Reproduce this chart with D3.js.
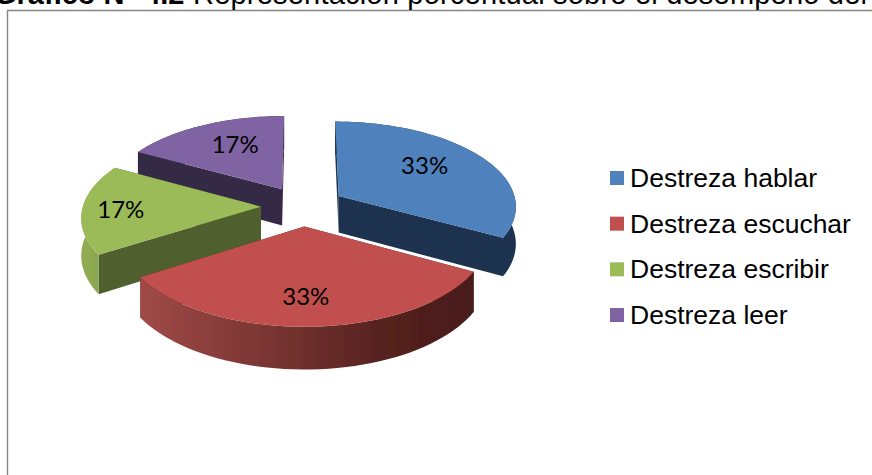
<!DOCTYPE html>
<html>
<head>
<meta charset="utf-8">
<style>html,body{margin:0;padding:0;background:#fff;overflow:hidden}svg{display:block}</style>
<script src="https://cdn.jsdelivr.net/npm/d3@7/dist/d3.min.js"></script>
</head>
<body>
<svg id="chart" width="872" height="475"></svg>
<script>
const categories = ["Destreza hablar", "Destreza escuchar", "Destreza escribir", "Destreza leer"];
const values = [33, 33, 17, 17];
const labels = ["33%", "33%", "17%", "17%"];
const titleBold = "Gráfico N° 4.2";
const titleRest = "Representación porcentual sobre el desempeño del";

const topColors = ["#4f81bd", "#c0504d", "#9bbb59", "#8064a2"];
const wallColors = ["#1f334f", "#4d1e1c", "#4f5f2d", "#352a44"];
const labelFrac = [0.58, 0.70, 0.79, 0.62];
const labelNudge = [[2, -6], [-3, 3], [1, 1], [4, -3]];

const cx = 303, cy = 206, R = 178, tilt = 0.475, persp = 0.109 / 178, depth = 37, explode = 42;
const W = 872, H = 475;
const svg = d3.select("#chart");
const defs = svg.append("defs");
const redGrad = defs.append("linearGradient").attr("id", "redRim")
  .attr("gradientUnits", "userSpaceOnUse").attr("x1", 141).attr("x2", 472).attr("y1", 0).attr("y2", 0);
redGrad.append("stop").attr("offset", 0).attr("stop-color", "#a04a47");
redGrad.append("stop").attr("offset", 0.75).attr("stop-color", "#54211f");
redGrad.append("stop").attr("offset", 1).attr("stop-color", "#4a1c1a");
const greenGrad = defs.append("linearGradient").attr("id", "greenRim")
  .attr("gradientUnits", "userSpaceOnUse").attr("x1", 80).attr("x2", 110).attr("y1", 0).attr("y2", 0);
greenGrad.append("stop").attr("offset", 0).attr("stop-color", "#93ae54");
greenGrad.append("stop").attr("offset", 1).attr("stop-color", "#83a04c");
const soft = defs.append("filter").attr("id", "soft").attr("x", "-5%").attr("y", "-5%").attr("width", "110%").attr("height", "110%");
soft.append("feGaussianBlur").attr("stdDeviation", 0.45);
const rimFills = ["#1f334f", "url(#redRim)", "url(#greenRim)", "#352a44"];

// frame
svg.append("path").attr("d", `M7.5,${H} V10.5 H${W}`).attr("fill", "none").attr("stroke", "#868686").attr("stroke-width", 1.4);

// title, cropped by the top of the page
const titleFont = { family: "'Liberation Sans'", size: 29, baseline: 4 };
svg.append("text").attr("x", -6).attr("y", titleFont.baseline)
  .attr("font-family", titleFont.family).attr("font-size", titleFont.size).attr("font-weight", "bold").attr("fill", "#000").text(titleBold);
svg.append("text").attr("x", 193).attr("y", titleFont.baseline)
  .attr("font-family", titleFont.family).attr("font-size", titleFont.size).attr("fill", "#000")
  .attr("textLength", 674).attr("lengthAdjust", "spacing").text(titleRest);

// projection of a disk point (angle clockwise from top, radius) with its slice explosion
function project(mid, a, r, z) {
  const X = explode * Math.sin(mid) + r * Math.sin(a);
  const Y = -explode * Math.cos(mid) - r * Math.cos(a);
  const s = 1 / (1 - persp * Y);
  return [cx + X * s, cy + tilt * Y * s + z * s];
}
const line = d3.line();
const pie = d3.pie().sort(null).value(d => d)(values);

function arcPts(d, z, reverse) {
  const n = 48, mid = (d.startAngle + d.endAngle) / 2;
  const pts = d3.range(n + 1).map(i => project(mid, d.startAngle + (d.endAngle - d.startAngle) * i / n, R, z));
  return reverse ? pts.reverse() : pts;
}

const order = [3, 0, 2, 1];
const marks = svg.append("g").attr("filter", "url(#soft)");
order.forEach(i => {
  const d = pie[i], mid = (d.startAngle + d.endAngle) / 2, g = marks.append("g");
  const apexT = project(mid, 0, 0, 0), apexB = project(mid, 0, 0, depth);
  [d.startAngle, d.endAngle].forEach(a => {
    g.append("path")
      .attr("d", line([apexT, project(mid, a, R, 0), project(mid, a, R, depth), apexB]) + "Z")
      .attr("fill", wallColors[i]);
  });
  g.append("path")
    .attr("d", line(arcPts(d, 0, false).concat(arcPts(d, depth, true))) + "Z")
    .attr("fill", rimFills[i]);
  g.append("path")
    .attr("d", line([apexT].concat(arcPts(d, 0, false))) + "Z")
    .attr("fill", topColors[i]);
});

// data labels
pie.forEach((d, i) => {
  const mid = (d.startAngle + d.endAngle) / 2;
  const p = project(mid, mid, R * labelFrac[i], 0);
  svg.append("text").attr("x", p[0] + labelNudge[i][0]).attr("y", p[1] + 8 + labelNudge[i][1]).attr("text-anchor", "middle")
    .attr("font-family", "Lato, 'Open Sans'").attr("font-size", 24).attr("fill", "#000").text(labels[i]);
});

// legend
const legendY = d3.scalePoint().domain(categories).range([178, 315]);
const lg = svg.append("g").selectAll("g").data(categories).join("g")
  .attr("transform", d => `translate(610,${legendY(d)})`);
lg.append("rect").attr("x", 0).attr("y", -7).attr("width", 14).attr("height", 14)
  .attr("fill", (d, i) => topColors[i]);
lg.append("text").attr("x", 20).attr("y", 9)
  .attr("font-family", "'Liberation Sans'").attr("font-size", 26.5).attr("fill", "#000").text(d => d);
</script>
</body>
</html>
